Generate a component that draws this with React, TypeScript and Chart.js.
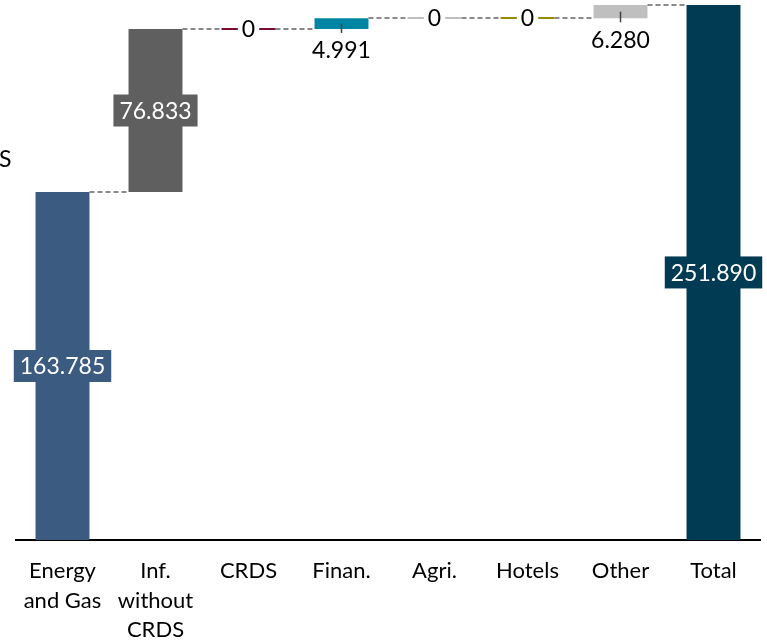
import React, { useEffect, useRef } from "react";
import { Chart, registerables } from "chart.js";

Chart.register(...registerables);

const categories: (string | string[])[] = [
  ["Energy", "and Gas"],
  ["Inf.", "without", "CRDS"],
  "CRDS",
  "Finan.",
  "Agri.",
  "Hotels",
  "Other",
  "Total",
];
const increments = [163.785, 76.833, 0, 4.991, 0, 0, 6.28];
const totalValue = 251.89;
const barColors = [
  "#3b5b80",
  "#5f5f5f",
  "#7b0c2d",
  "#0086a4",
  "#bfbfbf",
  "#9a8800",
  "#bfbfbf",
  "#003a53",
];
const sideText = "S";

const FONT = "Lato, 'Noto Sans', sans-serif";

function buildRanges(): [number, number][] {
  const out: [number, number][] = [];
  let acc = 0;
  for (const v of increments) {
    out.push([acc, acc + v]);
    acc += v;
  }
  out.push([0, totalValue]);
  return out;
}
const labelValues = [...increments, totalValue];

const waterfallPlugin = {
  id: "waterfallDecor",
  afterDatasetsDraw(chart: any) {
    const ctx: CanvasRenderingContext2D = chart.ctx;
    const meta = chart.getDatasetMeta(0);
    const yScale = chart.scales.y;
    const ranges = chart.data.datasets[0].data as [number, number][];
    const bars = meta.data.map((b: any) => b.getProps(["x", "y", "base", "width"], true));
    ctx.save();
    // connectors
    ctx.setLineDash([5, 3]);
    ctx.lineWidth = 2;
    ctx.strokeStyle = "#8a8a8a";
    for (let i = 0; i < bars.length - 1; i++) {
      const level = ranges[i][1];
      const py = Math.round(yScale.getPixelForValue(level));
      const x1 = bars[i].x + bars[i].width / 2;
      const x2 = bars[i + 1].x - bars[i + 1].width / 2;
      ctx.beginPath();
      ctx.moveTo(x1, py);
      ctx.lineTo(x2, py);
      ctx.stroke();
    }
    ctx.setLineDash([]);
    ctx.font = `23px ${FONT}`;
    ctx.textAlign = "center";
    for (let i = 0; i < bars.length; i++) {
      const b = bars[i];
      const v = labelValues[i];
      const top = Math.min(b.y, b.base);
      const bottom = Math.max(b.y, b.base);
      const h = bottom - top;
      const color = barColors[i];
      if (v === 0) {
        const py = Math.round(yScale.getPixelForValue(ranges[i][1]));
        ctx.strokeStyle = color;
        ctx.lineWidth = 2;
        ctx.beginPath();
        ctx.moveTo(b.x - b.width / 2, py);
        ctx.lineTo(b.x + b.width / 2, py);
        ctx.stroke();
        const txt = "0";
        const w = ctx.measureText(txt).width + 8;
        ctx.fillStyle = "#ffffff";
        ctx.fillRect(b.x - w / 2, py - 12, w, 24);
        ctx.fillStyle = "#000000";
        ctx.textBaseline = "middle";
        ctx.fillText(txt, b.x, py + 1);
      } else if (h > 40) {
        const txt = v.toFixed(3);
        const w = ctx.measureText(txt).width + 12;
        const cy = (top + bottom) / 2;
        ctx.fillStyle = color;
        ctx.fillRect(b.x - w / 2, cy - 16, w, 32);
        ctx.fillStyle = "#ffffff";
        ctx.textBaseline = "middle";
        ctx.fillText(txt, b.x, cy + 1);
      } else {
        const txt = v.toFixed(3);
        const mid = (top + bottom) / 2;
        const tickEnd = bottom + 4;
        ctx.strokeStyle = "#404040";
        ctx.lineWidth = 1.5;
        ctx.beginPath();
        ctx.moveTo(b.x, mid);
        ctx.lineTo(b.x, tickEnd);
        ctx.stroke();
        ctx.fillStyle = "#000000";
        ctx.textBaseline = "middle";
        ctx.fillText(txt, b.x, tickEnd + 18);
      }
    }
    // side text
    ctx.textAlign = "left";
    ctx.textBaseline = "middle";
    ctx.fillStyle = "#000000";
    ctx.font = `23px ${FONT}`;
    ctx.fillText(sideText, -1, 160);
    ctx.restore();
  },
};

export default function App() {
  const canvasRef = useRef<HTMLCanvasElement | null>(null);
  useEffect(() => {
    document.body.style.margin = "0";
    const canvas = canvasRef.current;
    if (!canvas) return;
    const chart = new Chart(canvas, {
      type: "bar",
      data: {
        labels: categories as any,
        datasets: [
          {
            data: buildRanges() as any,
            backgroundColor: barColors,
            borderWidth: 0,
            borderSkipped: false,
            categoryPercentage: 1,
            barPercentage: 0.58,
          },
        ],
      },
      options: {
        animation: false,
        responsive: true,
        maintainAspectRatio: false,
        layout: { padding: { top: 5, left: 16, right: 7, bottom: -20 } },
        plugins: {
          legend: { display: false },
          tooltip: { enabled: false },
          title: { display: false },
        },
        scales: {
          x: {
            grid: { display: false, drawTicks: false },
            border: { display: true, color: "#000000", width: 2 },
            ticks: {
              color: "#000000",
              font: { family: FONT, size: 22, lineHeight: 1.32 },
              padding: 17,
              maxRotation: 0,
              autoSkip: false,
            },
          },
          y: {
            display: false,
            min: 0,
            max: totalValue,
          },
        },
      },
      plugins: [waterfallPlugin],
    });
    return () => chart.destroy();
  }, []);
  return (
    <div style={{ width: 767, height: 641, position: "relative" }}>
      <canvas ref={canvasRef} />
    </div>
  );
}
